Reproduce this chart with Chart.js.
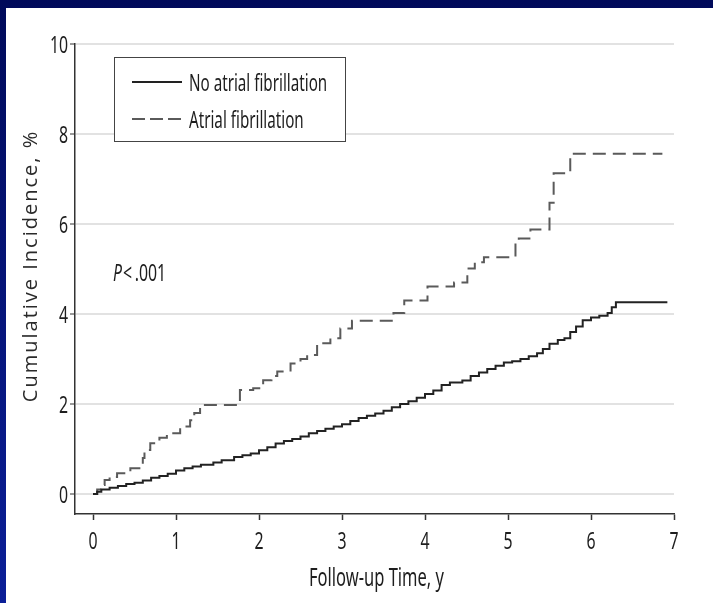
<!DOCTYPE html>
<html>
<head>
<meta charset="utf-8">
<script src="https://cdn.jsdelivr.net/npm/chart.js@4"></script>
<style>
  html, body { margin: 0; padding: 0; }
  body {
    width: 713px; height: 603px; overflow: hidden; position: relative;
    background: linear-gradient(to bottom, #000a5a, #0b1f98);
  }
  #panel { position: absolute; left: 6px; top: 8px; right: 0; bottom: 0; background: #fff; }
  #wrap { position: absolute; left: 0; top: 0; width: 713px; height: 603px; }
</style>
</head>
<body>
<div id="panel"></div>
<div id="wrap"><canvas id="chart" width="713" height="603"></canvas></div>
<script>
/* ── Data ─────────────────────────────────────────────────────────────
   Cumulative incidence (%) at each event time (years).                 */
const noAfTimes = [
  0, 0.05, 0.1, 0.2, 0.3, 0.4, 0.5, 0.6, 0.7, 0.8, 0.9, 1.0, 1.1, 1.2, 1.3,
  1.45, 1.55, 1.7, 1.8, 1.9, 2.0, 2.1, 2.2, 2.3, 2.4, 2.5, 2.6, 2.7, 2.8, 2.9,
  3.0, 3.1, 3.2, 3.3, 3.4, 3.5, 3.6, 3.7, 3.8, 3.9, 4.0, 4.1, 4.2, 4.3, 4.45,
  4.55, 4.65, 4.75, 4.85, 4.95, 5.05, 5.15, 5.25, 5.35, 5.42, 5.5, 5.6, 5.68,
  5.75, 5.82, 5.9, 6.0, 6.1, 6.2, 6.25, 6.3, 6.92
];
const noAfValues = [
  0, 0.05, 0.1, 0.14, 0.18, 0.22, 0.25, 0.3, 0.36, 0.4, 0.45, 0.52, 0.57, 0.61, 0.65,
  0.7, 0.75, 0.82, 0.86, 0.9, 0.97, 1.04, 1.12, 1.18, 1.22, 1.28, 1.35, 1.4, 1.45, 1.5,
  1.55, 1.62, 1.69, 1.74, 1.79, 1.85, 1.93, 2.0, 2.06, 2.14, 2.22, 2.3, 2.42, 2.48, 2.52,
  2.62, 2.7, 2.78, 2.85, 2.92, 2.95, 3.0, 3.06, 3.13, 3.22, 3.34, 3.42, 3.46,
  3.6, 3.72, 3.86, 3.92, 3.96, 4.02, 4.15, 4.26, 4.26
];

const afTimes = [
  0, 0.05, 0.1, 0.14, 0.2, 0.29, 0.45, 0.6, 0.62, 0.69, 0.8, 0.89, 1.05, 1.17, 1.22,
  1.29, 1.77, 1.93, 2.05, 2.15, 2.22, 2.38, 2.5, 2.58, 2.7, 2.86, 2.98, 3.12, 3.62,
  3.75, 4.03, 4.35, 4.51, 4.6, 4.71, 5.09, 5.13, 5.27, 5.5, 5.55, 5.75, 6.86
];
const afValues = [
  0, 0.1, 0.2, 0.31, 0.38, 0.46, 0.57, 0.8, 0.98, 1.13, 1.25, 1.35, 1.5, 1.64, 1.8,
  1.98, 2.31, 2.35, 2.53, 2.62, 2.72, 2.9, 3.0, 3.09, 3.35, 3.46, 3.68, 3.85, 4.02,
  4.3, 4.61, 4.7, 5.01, 5.15, 5.26, 5.57, 5.68, 5.88, 6.47, 7.13, 7.56, 7.56
];

const seriesLabels = ["No atrial fibrillation", "Atrial fibrillation"];
const xTickValues = [0, 1, 2, 3, 4, 5, 6, 7];
const yTickValues = [0, 2, 4, 6, 8, 10];
const xTitle = "Follow-up Time, y";
const yTitle = "Cumulative Incidence, %";

/* ── Condensed text helper ─────────────────────────────────────────────
   The labels use a tall, narrow face; squeeze Noto Sans horizontally.   */
const NARROW = 0.66;
const LABEL_SIZE = 24;
const CAP = 0.714 * LABEL_SIZE;

function narrowText(ctx, text, x, y, align, opts = {}) {
  ctx.save();
  ctx.font = `${opts.italic ? "italic " : ""}${opts.size || LABEL_SIZE}px 'Noto Sans', sans-serif`;
  ctx.fillStyle = opts.color || "#1e1e1e";
  ctx.textBaseline = "alphabetic";
  ctx.textAlign = align;
  ctx.translate(x, y);
  ctx.scale(NARROW, 1);
  ctx.fillText(text, 0, 0);
  const w = ctx.measureText(text).width * NARROW;
  ctx.restore();
  return w;
}

/* tick labels, axis titles, legend box and the P value */
const annotations = {
  id: "annotations",
  afterDraw(chart) {
    const { ctx, scales: { x: xs, y: ys } } = chart;

    ys.ticks.forEach((t) =>
      narrowText(ctx, String(t.value), ys.right - 7, ys.getPixelForValue(t.value) + CAP / 2, "right"));
    xs.ticks.forEach((t) =>
      narrowText(ctx, String(t.value), xs.getPixelForValue(t.value), xs.top + 35, "center"));

    narrowText(ctx, xTitle, (xs.left + xs.right) / 2 + 2, xs.top + 72, "center", { size: 25 });

    // y title: regular width, slightly tracked
    ctx.save();
    ctx.translate(31, 266);
    ctx.rotate(-Math.PI / 2);
    ctx.font = "20px 'Open Sans', sans-serif";
    ctx.letterSpacing = "2px";
    ctx.fillStyle = "#2a2a2a";
    ctx.textAlign = "center";
    ctx.textBaseline = "middle";
    ctx.fillText(yTitle, 0, 0);
    ctx.restore();

    // legend box
    const box = { x: 114.5, y: 57.5, w: 231, h: 84 };
    ctx.save();
    ctx.fillStyle = "#fff";
    ctx.fillRect(box.x, box.y, box.w, box.h);
    ctx.strokeStyle = "#444";
    ctx.lineWidth = 1;
    ctx.strokeRect(box.x, box.y, box.w, box.h);
    chart.data.datasets.forEach((ds, i) => {
      const rowY = 82 + i * 37;
      ctx.strokeStyle = ds.borderColor;
      ctx.lineWidth = 2;
      ctx.setLineDash(i ? [13, 5] : []);
      ctx.beginPath();
      ctx.moveTo(132, rowY);
      ctx.lineTo(182, rowY);
      ctx.stroke();
      narrowText(ctx, ds.label, 189, rowY + CAP / 2, "left", { size: 23 });
    });
    ctx.restore();

    // significance note
    const pw = narrowText(ctx, "P", 113, 272 + CAP / 2, "left", { italic: true });
    narrowText(ctx, "<\u2009.001", 113 + pw + 1, 272 + CAP / 2, "left");
  },
};

/* ── Chart ─────────────────────────────────────────────────────────── */
const toPoints = (ts, vs) => ts.map((t, i) => ({ x: t, y: vs[i] }));

const lineStyles = [
  { color: "#222", dash: [] },
  { color: "#5a5a5a", dash: [13, 7] },
];

new Chart(document.getElementById("chart"), {
  type: "line",
  data: {
    datasets: [
      { data: toPoints(noAfTimes, noAfValues) },
      { data: toPoints(afTimes, afValues) },
    ].map((d, i) => ({
      ...d,
      label: seriesLabels[i],
      stepped: true,
      borderColor: lineStyles[i].color,
      borderDash: lineStyles[i].dash,
      borderWidth: 2,
      pointRadius: 0,
      fill: false,
    })),
  },
  options: {
    responsive: false,
    animation: false,
    layout: { padding: { top: 44, right: 39, bottom: 0, left: 0 } },
    plugins: { legend: { display: false }, tooltip: { enabled: false } },
    scales: {
      x: {
        type: "linear",
        min: -0.217,
        max: 7,
        afterBuildTicks: (s) => { s.ticks = xTickValues.map((v) => ({ value: v })); },
        afterFit: (s) => { s.height = 89; },
        grid: { drawOnChartArea: false, tickLength: 6, tickColor: "#333", tickWidth: 1.5 },
        border: { color: "#333", width: 1.5 },
        ticks: { display: false },
      },
      y: {
        min: -0.444,
        max: 10,
        afterBuildTicks: (s) => { s.ticks = yTickValues.map((v) => ({ value: v })); },
        afterFit: (s) => { s.width = 75; },
        grid: { color: "#e2e2e2", lineWidth: 2, tickLength: 5, tickColor: "#333", tickWidth: 1 },
        border: { color: "#333", width: 1.5 },
        ticks: { display: false },
      },
    },
  },
  plugins: [annotations],
});
</script>
</body>
</html>
